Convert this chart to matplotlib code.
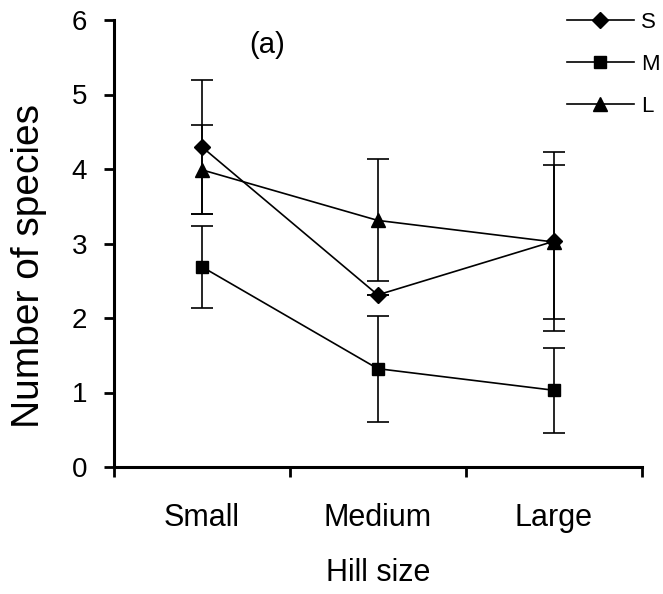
import numpy as np
import matplotlib
matplotlib.use('Agg')
import matplotlib.pyplot as plt
from matplotlib.lines import Line2D
from matplotlib.ticker import FixedLocator, NullFormatter, FixedFormatter

plt.rcParams['font.family'] = ['Liberation Sans', 'DejaVu Sans']

# Data
sizes = ['Small', 'Medium', 'Large']
s_mean = [4.30, 2.31, 3.03]
s_err = [0.90, 0.0, 1.20]
m_mean = [2.69, 1.32, 1.03]
m_err = [0.55, 0.71, 0.57]
l_mean = [3.99, 3.31, 3.02]
l_err = [0.60, 0.82, 1.03]

fig = plt.figure(figsize=(6.63, 5.94), dpi=100)
ax = fig.add_axes([113.5 / 663, 1 - 467 / 594, (642 - 113.5) / 663, (467 - 20) / 594])

x = np.arange(len(sizes)) + 0.5
series = [
    ('S', s_mean, s_err, 'D', 8),
    ('M', m_mean, m_err, 's', 9),
    ('L', l_mean, l_err, '^', 10),
]
handles = []
for name, mean, err, marker, ms in series:
    ax.errorbar(x, mean, yerr=err, color='black', lw=1.2, elinewidth=1.2,
                capsize=8, capthick=1.2, marker=marker, markersize=ms)
    handles.append(Line2D([], [], color='black', lw=1.2, marker=marker,
                          markersize=ms, label=name))

ax.set_xlim(0, 3)
ax.set_ylim(0, 6)
ax.set_yticks(range(0, 7))
ax.xaxis.set_major_locator(FixedLocator([0, 1, 2, 3]))
ax.xaxis.set_major_formatter(NullFormatter())
ax.xaxis.set_minor_locator(FixedLocator(list(x)))
ax.xaxis.set_minor_formatter(FixedFormatter(sizes))
ax.tick_params(axis='x', which='minor', length=0, pad=26, labelsize=22)
ax.tick_params(axis='x', which='major', length=7, width=2, direction='out')
ax.tick_params(axis='y', length=7, width=2, direction='out', pad=12, labelsize=20)

for side in ['top', 'right']:
    ax.spines[side].set_visible(False)
for side in ['left', 'bottom']:
    ax.spines[side].set_linewidth(2.2)

ax.set_xlabel('Hill size', fontsize=22, labelpad=18)
ax.set_ylabel('Number of species', fontsize=28)
ax.yaxis.set_label_coords(-0.125, 0.45)

ax.text(0.87, 5.67, '(a)', fontsize=21, ha='center', va='center')

ax.legend(handles=handles, loc='upper right',
          bbox_to_anchor=(660 / 663, 1 - 12 / 594),
          bbox_transform=fig.transFigure, frameon=False, fontsize=16,
          handlelength=3.0, handletextpad=0.35, labelspacing=0.95,
          borderpad=0, borderaxespad=0)

fig.savefig('out.png', dpi=100)
